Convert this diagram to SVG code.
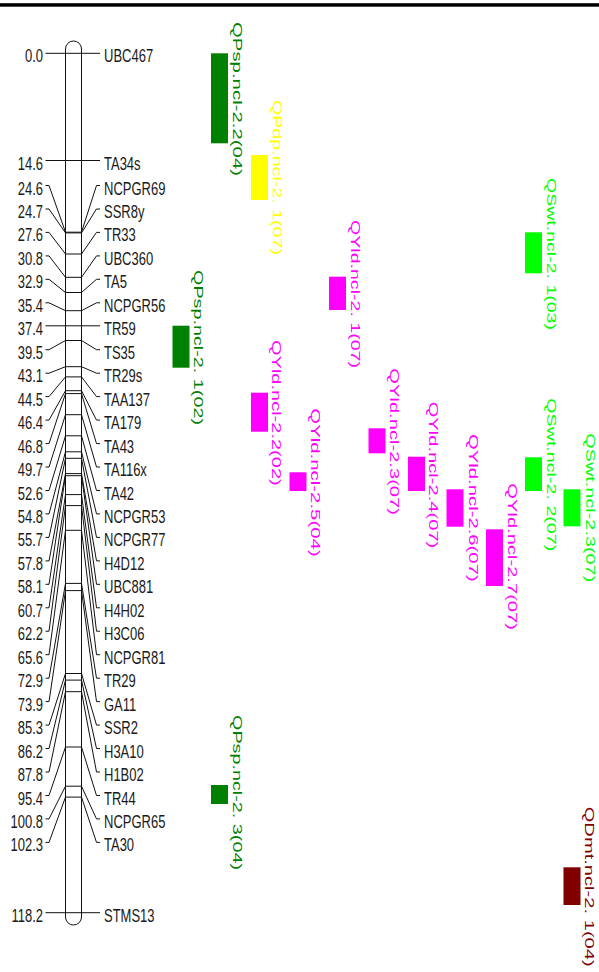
<svg xmlns="http://www.w3.org/2000/svg" width="599" height="972" viewBox="0 0 599 972">
  <style>
    .ln { fill: none; stroke: #111; stroke-width: 1; }
    .chr { fill: #fff; stroke: #111; stroke-width: 1; }
    .mk { font-family: "Liberation Sans", Arial, sans-serif; font-size: 13px; fill: #1a1a1a; }
    .l { text-anchor: end; }
    .q { font-family: "Liberation Sans", Arial, sans-serif; font-size: 13px; }
    .dkgreen { fill: #008000; }
    .yellow { fill: #ffff00; }
    .magenta { fill: #ff00ff; }
    .lime { fill: #00ff00; }
    .maroon { fill: #800000; }
  </style>

  <!-- heading rule -->
  <rect x="0" y="3.2" width="599" height="3.5" fill="#000"/>

  <!-- chromosome body -->
  <g id="chromosome">
    <rect class="chr" x="65.5" y="41" width="16" height="884" rx="8" ry="8"/>
  </g>

  <!-- marker connectors: left tick, diagonal to chromosome, crossbar, diagonal to right tick -->
  <g id="connectors" class="ln">
    <polyline points="45.5,53.3 100,53.3"/>
    <polyline points="45.5,160.5 100,160.5"/>
    <polyline points="45.5,185.5 49,185.5 65.5,232.2 81.5,232.2 96.5,185.5 100,185.5"/>
    <polyline points="45.5,209 49,209 65.5,232.9 81.5,232.9 96.5,209 100,209"/>
    <polyline points="45.5,232.4 49,232.4 65.5,254 81.5,254 96.5,232.4 100,232.4"/>
    <polyline points="45.5,255.9 49,255.9 65.5,277.3 81.5,277.3 96.5,255.9 100,255.9"/>
    <polyline points="45.5,279.3 49,279.3 65.5,292.5 81.5,292.5 96.5,279.3 100,279.3"/>
    <polyline points="45.5,302.8 49,302.8 65.5,310.7 81.5,310.7 96.5,302.8 100,302.8"/>
    <polyline points="45.5,325.8 100,325.8"/>
    <polyline points="45.5,349.7 49,349.7 65.5,340.5 81.5,340.5 96.5,349.7 100,349.7"/>
    <polyline points="45.5,373.2 49,373.2 65.5,366.7 81.5,366.7 96.5,373.2 100,373.2"/>
    <polyline points="45.5,396.6 49,396.6 65.5,376.9 81.5,376.9 96.5,396.6 100,396.6"/>
    <polyline points="45.5,420.1 49,420.1 65.5,390.7 81.5,390.7 96.5,420.1 100,420.1"/>
    <polyline points="45.5,443.6 49,443.6 65.5,393.6 81.5,393.6 96.5,443.6 100,443.6"/>
    <polyline points="45.5,467 49,467 65.5,414.7 81.5,414.7 96.5,467 100,467"/>
    <polyline points="45.5,490.5 49,490.5 65.5,435.8 81.5,435.8 96.5,490.5 100,490.5"/>
    <polyline points="45.5,513.9 49,513.9 65.5,451.8 81.5,451.8 96.5,513.9 100,513.9"/>
    <polyline points="45.5,537.4 49,537.4 65.5,458.3 81.5,458.3 96.5,537.4 100,537.4"/>
    <polyline points="45.5,560.9 49,560.9 65.5,473.6 81.5,473.6 96.5,560.9 100,560.9"/>
    <polyline points="45.5,584.3 49,584.3 65.5,475.7 81.5,475.7 96.5,584.3 100,584.3"/>
    <polyline points="45.5,607.8 49,607.8 65.5,494.6 81.5,494.6 96.5,607.8 100,607.8"/>
    <polyline points="45.5,631.2 49,631.2 65.5,505.6 81.5,505.6 96.5,631.2 100,631.2"/>
    <polyline points="45.5,654.7 49,654.7 65.5,530.3 81.5,530.3 96.5,654.7 100,654.7"/>
    <polyline points="45.5,678.2 49,678.2 65.5,583.4 81.5,583.4 96.5,678.2 100,678.2"/>
    <polyline points="45.5,701.6 49,701.6 65.5,590.6 81.5,590.6 96.5,701.6 100,701.6"/>
    <polyline points="45.5,725.1 49,725.1 65.5,673.5 81.5,673.5 96.5,725.1 100,725.1"/>
    <polyline points="45.5,748.5 49,748.5 65.5,680.1 81.5,680.1 96.5,748.5 100,748.5"/>
    <polyline points="45.5,772 49,772 65.5,691.7 81.5,691.7 96.5,772 100,772"/>
    <polyline points="45.5,795.5 49,795.5 65.5,747 81.5,747 96.5,795.5 100,795.5"/>
    <polyline points="45.5,818.9 49,818.9 65.5,786.2 81.5,786.2 96.5,818.9 100,818.9"/>
    <polyline points="45.5,842.4 49,842.4 65.5,797.1 81.5,797.1 96.5,842.4 100,842.4"/>
    <polyline points="45.5,912.7 100,912.7"/>
  </g>

  <!-- marker labels: position (cM) on the left, marker name on the right -->
  <g id="markers" class="mk">
    <g id="m-UBC467"><text class="l" transform="translate(43,62.3) scale(1,1.45)">0.0</text><text transform="translate(104,62.3) scale(1,1.45)">UBC467</text></g>
    <g id="m-TA34s"><text class="l" transform="translate(43,169.5) scale(1,1.45)">14.6</text><text transform="translate(104,169.5) scale(1,1.45)">TA34s</text></g>
    <g id="m-NCPGR69"><text class="l" transform="translate(43,194.5) scale(1,1.45)">24.6</text><text transform="translate(104,194.5) scale(1,1.45)">NCPGR69</text></g>
    <g id="m-SSR8y"><text class="l" transform="translate(43,218) scale(1,1.45)">24.7</text><text transform="translate(104,218) scale(1,1.45)">SSR8y</text></g>
    <g id="m-TR33"><text class="l" transform="translate(43,241.4) scale(1,1.45)">27.6</text><text transform="translate(104,241.4) scale(1,1.45)">TR33</text></g>
    <g id="m-UBC360"><text class="l" transform="translate(43,264.9) scale(1,1.45)">30.8</text><text transform="translate(104,264.9) scale(1,1.45)">UBC360</text></g>
    <g id="m-TA5"><text class="l" transform="translate(43,288.3) scale(1,1.45)">32.9</text><text transform="translate(104,288.3) scale(1,1.45)">TA5</text></g>
    <g id="m-NCPGR56"><text class="l" transform="translate(43,311.8) scale(1,1.45)">35.4</text><text transform="translate(104,311.8) scale(1,1.45)">NCPGR56</text></g>
    <g id="m-TR59"><text class="l" transform="translate(43,334.8) scale(1,1.45)">37.4</text><text transform="translate(104,334.8) scale(1,1.45)">TR59</text></g>
    <g id="m-TS35"><text class="l" transform="translate(43,358.7) scale(1,1.45)">39.5</text><text transform="translate(104,358.7) scale(1,1.45)">TS35</text></g>
    <g id="m-TR29s"><text class="l" transform="translate(43,382.2) scale(1,1.45)">43.1</text><text transform="translate(104,382.2) scale(1,1.45)">TR29s</text></g>
    <g id="m-TAA137"><text class="l" transform="translate(43,405.6) scale(1,1.45)">44.5</text><text transform="translate(104,405.6) scale(1,1.45)">TAA137</text></g>
    <g id="m-TA179"><text class="l" transform="translate(43,429.1) scale(1,1.45)">46.4</text><text transform="translate(104,429.1) scale(1,1.45)">TA179</text></g>
    <g id="m-TA43"><text class="l" transform="translate(43,452.6) scale(1,1.45)">46.8</text><text transform="translate(104,452.6) scale(1,1.45)">TA43</text></g>
    <g id="m-TA116x"><text class="l" transform="translate(43,476) scale(1,1.45)">49.7</text><text transform="translate(104,476) scale(1,1.45)">TA116x</text></g>
    <g id="m-TA42"><text class="l" transform="translate(43,499.5) scale(1,1.45)">52.6</text><text transform="translate(104,499.5) scale(1,1.45)">TA42</text></g>
    <g id="m-NCPGR53"><text class="l" transform="translate(43,522.9) scale(1,1.45)">54.8</text><text transform="translate(104,522.9) scale(1,1.45)">NCPGR53</text></g>
    <g id="m-NCPGR77"><text class="l" transform="translate(43,546.4) scale(1,1.45)">55.7</text><text transform="translate(104,546.4) scale(1,1.45)">NCPGR77</text></g>
    <g id="m-H4D12"><text class="l" transform="translate(43,569.9) scale(1,1.45)">57.8</text><text transform="translate(104,569.9) scale(1,1.45)">H4D12</text></g>
    <g id="m-UBC881"><text class="l" transform="translate(43,593.3) scale(1,1.45)">58.1</text><text transform="translate(104,593.3) scale(1,1.45)">UBC881</text></g>
    <g id="m-H4H02"><text class="l" transform="translate(43,616.8) scale(1,1.45)">60.7</text><text transform="translate(104,616.8) scale(1,1.45)">H4H02</text></g>
    <g id="m-H3C06"><text class="l" transform="translate(43,640.2) scale(1,1.45)">62.2</text><text transform="translate(104,640.2) scale(1,1.45)">H3C06</text></g>
    <g id="m-NCPGR81"><text class="l" transform="translate(43,663.7) scale(1,1.45)">65.6</text><text transform="translate(104,663.7) scale(1,1.45)">NCPGR81</text></g>
    <g id="m-TR29"><text class="l" transform="translate(43,687.2) scale(1,1.45)">72.9</text><text transform="translate(104,687.2) scale(1,1.45)">TR29</text></g>
    <g id="m-GA11"><text class="l" transform="translate(43,710.6) scale(1,1.45)">73.9</text><text transform="translate(104,710.6) scale(1,1.45)">GA11</text></g>
    <g id="m-SSR2"><text class="l" transform="translate(43,734.1) scale(1,1.45)">85.3</text><text transform="translate(104,734.1) scale(1,1.45)">SSR2</text></g>
    <g id="m-H3A10"><text class="l" transform="translate(43,757.5) scale(1,1.45)">86.2</text><text transform="translate(104,757.5) scale(1,1.45)">H3A10</text></g>
    <g id="m-H1B02"><text class="l" transform="translate(43,781) scale(1,1.45)">87.8</text><text transform="translate(104,781) scale(1,1.45)">H1B02</text></g>
    <g id="m-TR44"><text class="l" transform="translate(43,804.5) scale(1,1.45)">95.4</text><text transform="translate(104,804.5) scale(1,1.45)">TR44</text></g>
    <g id="m-NCPGR65"><text class="l" transform="translate(43,827.9) scale(1,1.45)">100.8</text><text transform="translate(104,827.9) scale(1,1.45)">NCPGR65</text></g>
    <g id="m-TA30"><text class="l" transform="translate(43,851.4) scale(1,1.45)">102.3</text><text transform="translate(104,851.4) scale(1,1.45)">TA30</text></g>
    <g id="m-STMS13"><text class="l" transform="translate(43,921.7) scale(1,1.45)">118.2</text><text transform="translate(104,921.7) scale(1,1.45)">STMS13</text></g>
  </g>

  <!-- QTL intervals with vertical names -->
  <g id="qtls" class="q">
    <g id="QPsp-2-2" class="dkgreen">
      <rect x="211" y="53.3" width="17" height="90"/>
      <text transform="translate(232.7,22) rotate(90)" textLength="154" lengthAdjust="spacingAndGlyphs">QPsp.ncl-2.2(04)</text>
    </g>
    <g id="QPdp-2-1" class="yellow">
      <rect x="251" y="155" width="17" height="45"/>
      <text transform="translate(272.7,100) rotate(90)" textLength="155" lengthAdjust="spacingAndGlyphs">QPdp.ncl-2. 1(07)</text>
    </g>
    <g id="QYld-2-1" class="magenta">
      <rect x="329" y="276.7" width="17" height="33.3"/>
      <text transform="translate(350.7,220) rotate(90)" textLength="148" lengthAdjust="spacingAndGlyphs">QYld.ncl-2. 1(07)</text>
    </g>
    <g id="QPsp-2-1" class="dkgreen">
      <rect x="172.5" y="325.7" width="17" height="42"/>
      <text transform="translate(194.4,270) rotate(90)" textLength="155" lengthAdjust="spacingAndGlyphs">QPsp.ncl-2. 1(02)</text>
    </g>
    <g id="QYld-2-2" class="magenta">
      <rect x="251" y="392.7" width="17" height="39"/>
      <text transform="translate(272,340) rotate(90)" textLength="145.7" lengthAdjust="spacingAndGlyphs">QYld.ncl-2.2(02)</text>
    </g>
    <g id="QYld-2-5" class="magenta">
      <rect x="289.5" y="472.3" width="17" height="18.7"/>
      <text transform="translate(311,408.3) rotate(90)" textLength="148.4" lengthAdjust="spacingAndGlyphs">QYld.ncl-2.5(04)</text>
    </g>
    <g id="QYld-2-3" class="magenta">
      <rect x="368.5" y="428.3" width="17" height="25"/>
      <text transform="translate(390,368.3) rotate(90)" textLength="146.7" lengthAdjust="spacingAndGlyphs">QYld.ncl-2.3(07)</text>
    </g>
    <g id="QYld-2-4" class="magenta">
      <rect x="408" y="456.7" width="17" height="34.3"/>
      <text transform="translate(429.4,401.7) rotate(90)" textLength="146.6" lengthAdjust="spacingAndGlyphs">QYld.ncl-2.4(07)</text>
    </g>
    <g id="QYld-2-6" class="magenta">
      <rect x="446.5" y="489.3" width="17" height="37.4"/>
      <text transform="translate(468.7,434) rotate(90)" textLength="147.7" lengthAdjust="spacingAndGlyphs">QYld.ncl-2.6(07)</text>
    </g>
    <g id="QYld-2-7" class="magenta">
      <rect x="486" y="529.3" width="17" height="56.7"/>
      <text transform="translate(507.7,483.3) rotate(90)" textLength="146.7" lengthAdjust="spacingAndGlyphs">QYld.ncl-2.7(07)</text>
    </g>
    <g id="QSwt-2-1" class="lime">
      <rect x="525" y="232.3" width="17" height="41"/>
      <text transform="translate(546.7,178) rotate(90)" textLength="152" lengthAdjust="spacingAndGlyphs">QSwt.ncl-2. 1(03)</text>
    </g>
    <g id="QSwt-2-2" class="lime">
      <rect x="525" y="457.3" width="17" height="33.7"/>
      <text transform="translate(547.2,398.3) rotate(90)" textLength="153" lengthAdjust="spacingAndGlyphs">QSwt.ncl-2. 2(07)</text>
    </g>
    <g id="QSwt-2-3" class="lime">
      <rect x="563.5" y="489.3" width="17" height="37"/>
      <text transform="translate(585.7,433.3) rotate(90)" textLength="149" lengthAdjust="spacingAndGlyphs">QSwt.ncl-2.3(07)</text>
    </g>
    <g id="QPsp-2-3" class="dkgreen">
      <rect x="211" y="785" width="17" height="19"/>
      <text transform="translate(232.7,715) rotate(90)" textLength="155" lengthAdjust="spacingAndGlyphs">QPsp.ncl-2. 3(04)</text>
    </g>
    <g id="QDmt-2-1" class="maroon">
      <rect x="563.5" y="867.3" width="17" height="37.7"/>
      <text transform="translate(585.4,806.7) rotate(90)" textLength="160" lengthAdjust="spacingAndGlyphs">QDmt.ncl-2. 1(04)</text>
    </g>
  </g>
</svg>
